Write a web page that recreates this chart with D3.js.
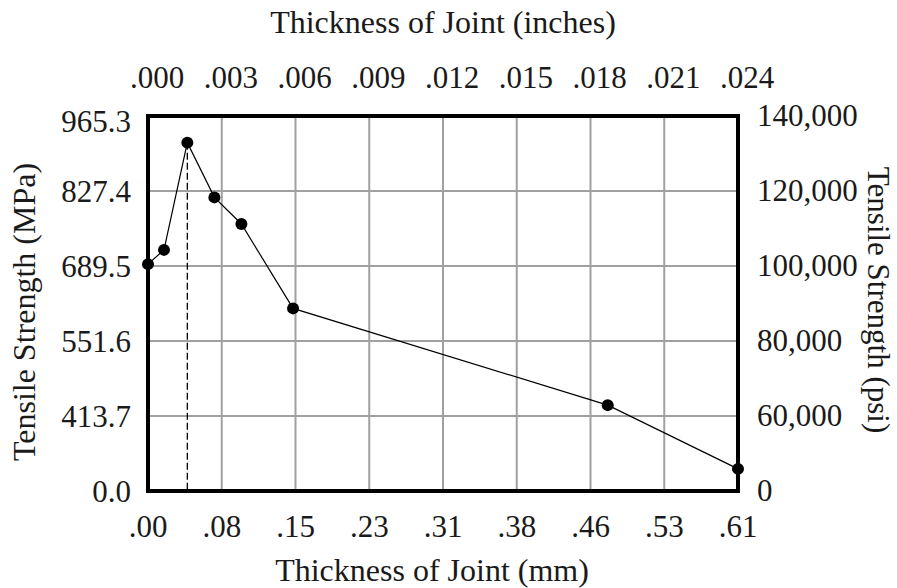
<!DOCTYPE html>
<html>
<head>
<meta charset="utf-8">
<script src="https://cdn.jsdelivr.net/npm/d3@7"></script>
<style>
  html, body { margin: 0; padding: 0; background: #fff; }
  svg { display: block; }
  text { font-family: "Liberation Serif", "Times New Roman", serif; fill: #1a1a1a; }
</style>
</head>
<body>
<svg id="chart" width="897" height="588"></svg>
<script>
// ---- data ----
const thicknessIn = [0, 0.00065, 0.0016, 0.0027, 0.0038, 0.0059, 0.0187, 0.024];
const strengthPsi = [100500, 104300, 132900, 118300, 111200, 88700, 62900, 45900];
const peakIndex = 2;

const xTickValues = [0, 0.003, 0.006, 0.009, 0.012, 0.015, 0.018, 0.021, 0.024];
const xTopLabels = [".000", ".003", ".006", ".009", ".012", ".015", ".018", ".021", ".024"];
const xBottomLabels = [".00", ".08", ".15", ".23", ".31", ".38", ".46", ".53", ".61"];

const yTickValues = [40000, 60000, 80000, 100000, 120000, 140000];
const yLeftLabels = ["0.0", "413.7", "551.6", "689.5", "827.4", "965.3"];
const yRightLabels = ["0", "60,000", "80,000", "100,000", "120,000", "140,000"];

const topTitle = "Thickness of Joint (inches)";
const bottomTitle = "Thickness of Joint (mm)";
const leftTitle = "Tensile Strength (MPa)";
const rightTitle = "Tensile Strength (psi)";

// ---- layout ----
const svg = d3.select("#chart");
const L = 148, R = 738, T = 116, B = 491;

const x = d3.scaleLinear().domain([0, 0.024]).range([L, R]);
const y = d3.scaleLinear().domain([40000, 140000]).range([B, T]);

// grid
const grid = svg.append("g").attr("stroke", "#a0a0a0").attr("stroke-width", 2);
grid.selectAll("line.v").data(xTickValues.slice(1, -1)).join("line")
  .attr("class", "v")
  .attr("x1", d => x(d)).attr("x2", d => x(d))
  .attr("y1", T).attr("y2", B);
grid.selectAll("line.h").data(yTickValues.slice(1, -1)).join("line")
  .attr("class", "h")
  .attr("x1", L).attr("x2", R)
  .attr("y1", d => y(d)).attr("y2", d => y(d));

// dashed drop line from peak
svg.append("line")
  .attr("x1", x(thicknessIn[peakIndex])).attr("x2", x(thicknessIn[peakIndex]))
  .attr("y1", y(strengthPsi[peakIndex])).attr("y2", B)
  .attr("stroke", "#000").attr("stroke-width", 1.3)
  .attr("stroke-dasharray", "7,3");

// frame
svg.append("rect")
  .attr("x", L).attr("y", T).attr("width", R - L).attr("height", B - T)
  .attr("fill", "none").attr("stroke", "#000").attr("stroke-width", 4);

// line + markers
const pts = thicknessIn.map((t, i) => [t, strengthPsi[i]]);
svg.append("path")
  .datum(pts)
  .attr("fill", "none").attr("stroke", "#000").attr("stroke-width", 1.2)
  .attr("d", d3.line().x(d => x(d[0])).y(d => y(d[1])));
svg.selectAll("circle.pt").data(pts).join("circle")
  .attr("class", "pt")
  .attr("cx", d => x(d[0])).attr("cy", d => y(d[1]))
  .attr("r", 6).attr("fill", "#000");

// tick labels
const tickFont = 31;
svg.append("g").selectAll("text").data(xTickValues).join("text")
  .attr("x", d => x(d) + 9).attr("y", 88)
  .attr("text-anchor", "middle").attr("font-size", tickFont)
  .text((d, i) => xTopLabels[i]);
svg.append("g").selectAll("text").data(xTickValues).join("text")
  .attr("x", d => x(d)).attr("y", 537)
  .attr("text-anchor", "middle").attr("font-size", tickFont)
  .text((d, i) => xBottomLabels[i]);
svg.append("g").selectAll("text").data(yTickValues).join("text")
  .attr("x", 131).attr("y", d => Math.max(y(d), T + 5) + 10.5)
  .attr("text-anchor", "end").attr("font-size", tickFont)
  .text((d, i) => yLeftLabels[i]);
svg.append("g").selectAll("text").data(yTickValues).join("text")
  .attr("x", 757).attr("y", d => y(d) + 10)
  .attr("text-anchor", "start").attr("font-size", tickFont)
  .text((d, i) => yRightLabels[i]);

// titles
const titleFont = 32;
svg.append("text").attr("x", 443).attr("y", 33)
  .attr("text-anchor", "middle").attr("font-size", titleFont).text(topTitle);
svg.append("text").attr("x", 432).attr("y", 581)
  .attr("text-anchor", "middle").attr("font-size", titleFont).text(bottomTitle);
svg.append("text")
  .attr("transform", "translate(35,312) rotate(-90)")
  .attr("text-anchor", "middle").attr("font-size", titleFont).text(leftTitle);
svg.append("text")
  .attr("transform", "translate(868,300) rotate(90)")
  .attr("text-anchor", "middle").attr("font-size", 31).text(rightTitle);
</script>
</body>
</html>
